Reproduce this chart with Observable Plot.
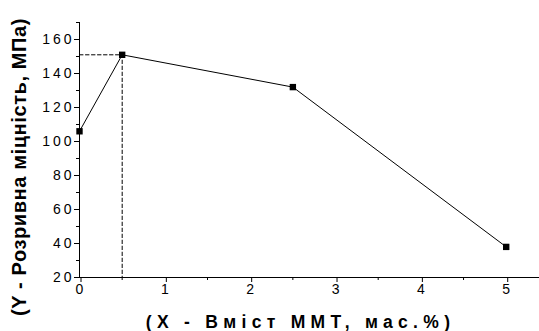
<!DOCTYPE html>
<html><head><meta charset="utf-8">
<script src="https://cdn.jsdelivr.net/npm/d3@7"></script>
<script src="https://cdn.jsdelivr.net/npm/@observablehq/plot@0.6"></script>
<style>
body{margin:0;background:#fff;}
svg{font-family:"Liberation Sans",Arial,sans-serif;}
g[aria-label="y-axis tick label"] text, g[aria-label="x-axis tick label"] text{letter-spacing:3px;}
.xt{letter-spacing:5.3px;}
.yt{letter-spacing:0.6px;}
</style>
</head><body><div id="c"></div>
<script>
const xVals = [0, 0.5, 2.5, 5];
const yVals = [106, 151, 132, 38];
const yTicks = [20, 40, 60, 80, 100, 120, 140, 160];
const yMinor = [30, 50, 70, 90, 110, 130, 150, 170];
const xTicks = [0, 1, 2, 3, 4, 5];
const xMinor = [0.5, 1.5, 2.5, 3.5, 4.5];
const xTitle = "(X - Вміст ММТ, мас.%)";
const yTitle = "(Y - Розривна міцність, МПа)";

const data = xVals.map((x, i) => ({x, y: yVals[i]}));
const peak = data.reduce((a, b) => b.y > a.y ? b : a);
const guide = [{x: 0, y: peak.y}, {x: peak.x, y: peak.y}, {x: peak.x, y: 20}];

const chart = Plot.plot({
  width: 539, height: 331,
  marginLeft: 79, marginRight: 0, marginTop: 22, marginBottom: 54,
  x: {domain: [0, 5.39]},
  y: {domain: [20, 170]},
  style: {fontFamily: "Liberation Sans, Arial, sans-serif", fontSize: "14px", color: "black"},
  marks: [
    Plot.axisY({ticks: yTicks, tickSize: 5, tickPadding: 0, tickFormat: d => d, label: null, fontSize: 14}),
    Plot.axisY({ticks: yMinor, tickSize: 3, tickFormat: null, text: null, label: null}),
    Plot.axisX({ticks: xTicks, tickSize: 5, tickPadding: 2, tickFormat: d => d, label: null, fontSize: 14, dx: 1.5}),
    Plot.axisX({ticks: xMinor, tickSize: 3, text: null, label: null}),
    Plot.ruleX([0], {stroke: "black"}),
    Plot.ruleY([20], {stroke: "black"}),
    Plot.line(guide, {x: "x", y: "y", stroke: "black", strokeWidth: 1, strokeDasharray: "3.5,2.5"}),
    Plot.line(data, {x: "x", y: "y", stroke: "black", strokeWidth: 1}),
    Plot.dot(data, {x: "x", y: "y", symbol: "square", r: 3.6, fill: "black", stroke: "none"}),
    Plot.text([xTitle], {frameAnchor: "bottom", textAnchor: "middle", lineAnchor: "bottom", dy: 50, dx: -9, text: d => d, fontSize: 17.5, fontWeight: "bold", className: "xt"}),
    Plot.text([yTitle], {frameAnchor: "left", textAnchor: "middle", lineAnchor: "middle", dx: -60, dy: 17, rotate: -90, text: d => d, fontSize: 20, fontWeight: "bold", className: "yt"})
  ]
});
document.getElementById("c").appendChild(chart);
</script>
</body></html>
